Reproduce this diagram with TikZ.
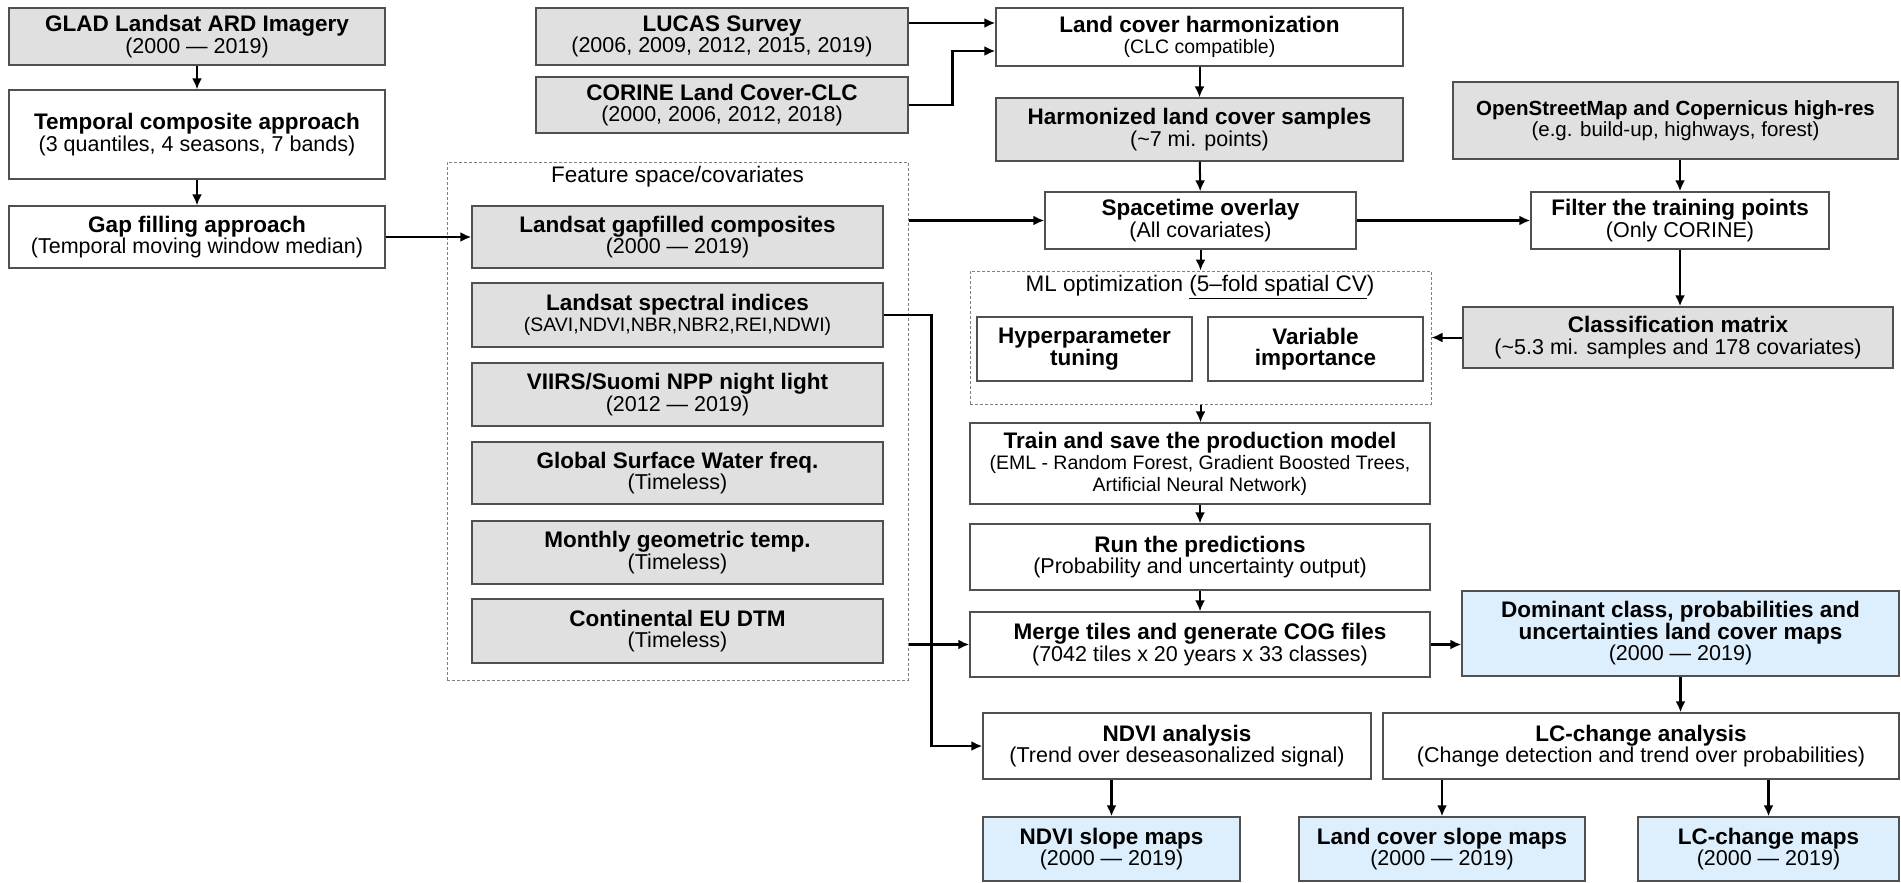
\documentclass[tikz,border=0pt]{standalone}
\usepackage{fontspec}
\setmainfont{Liberation Sans}
\usepackage{xcolor}
\usepackage{tikz}
\usetikzlibrary{calc, positioning, arrows.meta}
\definecolor{boxgray}{RGB}{224,224,224}
\definecolor{mapblue}{RGB}{221,238,252}
\definecolor{edgegray}{RGB}{80,80,80}
\newcommand{\smline}[1]{{\fontsize{19.5}{20.5}\selectfont #1}}
\newcommand{\ttl}[1]{{\fontsize{22.5}{21.5}\selectfont\bfseries #1}}

\begin{document}
\begin{tikzpicture}[>={Latex[length=11pt, width=10pt]}, x=1pt, y=-1pt,
    lbl/.style={inner sep=0pt, font=\fontsize{21.5}{21.5}\selectfont},
    box/.style={lbl, draw=edgegray, line width=1.3pt, align=center},
    graybox/.style={box, fill=boxgray},
    bluebox/.style={box, fill=mapblue},
    dashbox/.style={draw=gray, line width=1pt, dash pattern=on 3pt off 2pt},
    thinarr/.style={->, line width=2pt},
    thickarr/.style={->, line width=2.8pt}]
    \useasboundingbox (0,0) rectangle (1901,883);

    % Khung dac trung va khung toi uu
    \node[dashbox, minimum width=461pt, minimum height=518pt] (feat) at (677.5,421) {};
    \node[lbl, font=\fontsize{22.5}{22.5}\selectfont] (feattitle) at (677.5,177) {Feature space/covariates};
    \node[dashbox, minimum width=461pt, minimum height=133pt] (mlopt) at (1200.5,337.5) {};
    \node[lbl, font=\fontsize{22.5}{22.5}\selectfont] (mltitle) at (1200,287) {ML optimization \underline{(5--fold spatial CV})};

    % Cot trai
    \node[graybox, minimum width=376pt, minimum height=57pt] (glad) at (197,36.5) {\ttl{GLAD Landsat ARD Imagery}\\(2000 --- 2019)};
    \node[box, minimum width=376pt, minimum height=89pt] (temporal) at (197,134.5) {\ttl{Temporal composite approach}\\(3 quantiles, 4 seasons, 7 bands)};
    \node[box, minimum width=376pt, minimum height=62pt] (gapfill) at (197,237) {\ttl{Gap filling approach}\\(Temporal moving window median)};

    % Du lieu tham chieu
    \node[graybox, minimum width=372pt, minimum height=57pt] (lucas) at (722,36.5) {\ttl{LUCAS Survey}\\(2006, 2009, 2012, 2015, 2019)};
    \node[graybox, minimum width=372pt, minimum height=56pt] (corine) at (722,105) {\ttl{CORINE Land Cover-CLC}\\(2000, 2006, 2012, 2018)};

    % Cac bien dac trung
    \node[graybox, minimum width=411pt, minimum height=62pt] (gapcomp) at (677.5,237) {\ttl{Landsat gapfilled composites}\\(2000 --- 2019)};
    \node[graybox, minimum width=411pt, minimum height=64pt] (spectral) at (677.5,315) {\ttl{Landsat spectral indices}\\\smline{(SAVI,NDVI,NBR,NBR2,REI,NDWI)}};
    \node[graybox, minimum width=411pt, minimum height=63pt] (nightlight) at (677.5,394.5) {\ttl{VIIRS/Suomi NPP night light}\\(2012 --- 2019)};
    \node[graybox, minimum width=411pt, minimum height=62pt] (water) at (677.5,473) {\ttl{Global Surface Water freq.}\\(Timeless)};
    \node[graybox, minimum width=411pt, minimum height=63pt] (geotemp) at (677.5,552.5) {\ttl{Monthly geometric temp.}\\(Timeless)};
    \node[graybox, minimum width=411pt, minimum height=64pt] (dtm) at (677.5,631) {\ttl{Continental EU DTM}\\(Timeless)};

    % Cot giua
    \node[box, minimum width=407pt, minimum height=58pt] (harmon) at (1199.5,37) {\ttl{Land cover harmonization}\\\smline{(CLC compatible)}};
    \node[graybox, minimum width=407pt, minimum height=63pt] (samples) at (1199.5,129.5) {\ttl{Harmonized land cover samples}\\(\textasciitilde7 mi. points)};
    \node[box, minimum width=311pt, minimum height=57pt] (overlay) at (1200.5,220.5) {\ttl{Spacetime overlay}\\(All covariates)};
    \node[box, minimum width=215pt, minimum height=64pt] (hyper) at (1084.5,349) {\ttl{Hyperparameter}\\\ttl{tuning}};
    \node[box, minimum width=215pt, minimum height=64pt] (varimp) at (1315.5,349) {\ttl{Variable}\\\ttl{importance}};
    \node[box, minimum width=460pt, minimum height=81pt] (train) at (1200,463.5) {\ttl{Train and save the production model}\\\smline{(EML - Random Forest, Gradient Boosted Trees,}\\\smline{Artificial Neural Network)}};
    \node[box, minimum width=460pt, minimum height=66pt] (predict) at (1200,557) {\ttl{Run the predictions}\\(Probability and uncertainty output)};
    \node[box, minimum width=460pt, minimum height=65pt] (merge) at (1200,644.5) {\ttl{Merge tiles and generate COG files}\\(7042 tiles x 20 years x 33 classes)};

    % Cot phai
    \node[graybox, minimum width=445pt, minimum height=77pt, font=\fontsize{20.5}{21.5}\selectfont] (osm) at (1675.5,120.5) {\textbf{OpenStreetMap and Copernicus high-res}\\(e.g. build-up, highways, forest)};
    \node[box, minimum width=298pt, minimum height=57pt] (filter) at (1680,220.5) {\ttl{Filter the training points}\\(Only CORINE)};
    \node[graybox, minimum width=430pt, minimum height=61pt] (classmat) at (1678,337.5) {\ttl{Classification matrix}\\(\textasciitilde5.3 mi. samples and 178 covariates)};
    \node[bluebox, minimum width=437pt, minimum height=85pt] (dominant) at (1680.5,633.5) {\ttl{Dominant class, probabilities and}\\\ttl{uncertainties land cover maps}\\(2000 --- 2019)};

    % Phan tich xu huong
    \node[box, minimum width=388pt, minimum height=66pt] (ndvi) at (1177,746) {\ttl{NDVI analysis}\\(Trend over deseasonalized signal)};
    \node[box, minimum width=516pt, minimum height=66pt] (lcchange) at (1641,746) {\ttl{LC-change analysis}\\(Change detection and trend over probabilities)};
    \node[bluebox, minimum width=257pt, minimum height=64pt] (ndvislope) at (1111.5,849) {\ttl{NDVI slope maps}\\(2000 --- 2019)};
    \node[bluebox, minimum width=286pt, minimum height=64pt] (lcslope) at (1442,849) {\ttl{Land cover slope maps}\\(2000 --- 2019)};
    \node[bluebox, minimum width=261pt, minimum height=64pt] (lcmaps) at (1768.5,849) {\ttl{LC-change maps}\\(2000 --- 2019)};

    % Mui ten
    \draw[thinarr] (glad) -- (temporal);
    \draw[thinarr] (temporal) -- (gapfill);
    \draw[thickarr] (gapfill) -- (gapcomp);
    \draw[thickarr] ([yshift=13.5pt]lucas.east) -- ([yshift=13.5pt]lucas.east -| harmon.west);
    \draw[thickarr] (corine.east) -- ++(44,0) |- ([yshift=-14pt]harmon.west);
    \draw[thinarr] (harmon) -- (samples);
    \draw[thinarr] (samples) -- (overlay);
    \draw[thickarr] (feat.east |- overlay.west) -- (overlay.west);
    \draw[thickarr] (overlay) -- (filter);
    \draw[thickarr] (filter.north |- osm.south) -- (filter.north);
    \draw[thickarr] (filter.south) -- (filter.south |- classmat.north);
    \draw[thinarr] (classmat.west) -- (classmat.west -| mlopt.east);
    \draw[thinarr] (overlay.south) -- (overlay.south |- mlopt.north);
    \draw[thinarr] (mlopt.south) -- (mlopt.south |- train.north);
    \draw[thinarr] (train) -- (predict);
    \draw[thinarr] (predict) -- (merge);
    \draw[thickarr] (feat.east |- merge.west) -- (merge.west);
    \draw[thickarr] (merge.east) -- (merge.east -| dominant.west);
    \draw[thickarr] (dominant.south) -- (dominant.south |- lcchange.north);
    \draw[thickarr] (spectral.east) -- ++(48,0) |- (ndvi.west);
    \draw[thickarr] (ndvislope.north |- ndvi.south) -- (ndvislope.north);
    \draw[thickarr] (lcslope.north |- lcchange.south) -- (lcslope.north);
    \draw[thickarr] (lcmaps.north |- lcchange.south) -- (lcmaps.north);
\end{tikzpicture}
\end{document}
